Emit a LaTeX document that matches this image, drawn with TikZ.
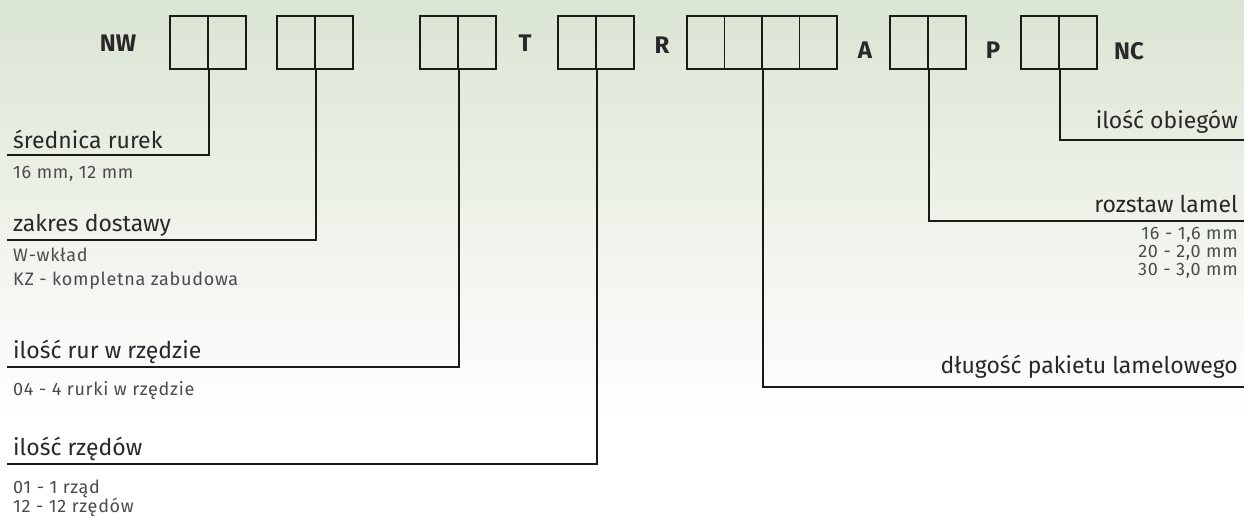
\documentclass[tikz,border=0pt]{standalone}
\usepackage{fontspec}
\setmainfont{Fira Sans}
\newfontfamily\subfont[LetterSpace=4]{Fira Sans}
\definecolor{bgtop}{RGB}{219,229,211}
\definecolor{lineC}{RGB}{25,27,23}
\definecolor{labC}{RGB}{40,40,40}
\definecolor{subC}{RGB}{75,75,75}
\begin{document}
\begin{tikzpicture}[x=1pt,y=-1pt,
  cell/.style={draw=lineC, line width=1.8pt, minimum width=38pt, minimum height=53pt, inner sep=0pt, anchor=north west},
  cellq/.style={cell, minimum width=37.5pt},
  code/.style={font=\bfseries\fontsize{24}{26}\selectfont, text=labC, inner sep=0pt},
  lab/.style={font=\fontsize{23}{26}\selectfont, text=labC, inner sep=0pt},
  labL/.style={lab, anchor=base west},
  labR/.style={lab, anchor=base east},
  sub/.style={font=\subfont\fontsize{18}{20}\selectfont, text=subC, inner sep=0pt, anchor=base west},
  subR/.style={sub, anchor=base east},
  conn/.style={draw=lineC, line width=1.8pt}
]
\useasboundingbox (0,0) rectangle (1244,518);
\fill[white] (0,0) rectangle (1244,518);
\shade[top color=bgtop, bottom color=white] (0,0) rectangle (1244,420);

% code letters
\node[code] (nw) at (118,43) {NW};
\node[code] (t) at (525,43) {T};
\node[code] (r) at (662,45) {R};
\node[code] (a) at (865,50) {A};
\node[code] (p) at (993,50) {P};
\node[code] (nc) at (1129,51) {NC};

% boxes
\node[cell] (b1a) at (169,15) {};
\node[cell] (b1b) at (207,15) {};
\node[cell] (b2a) at (276,15) {};
\node[cell] (b2b) at (314,15) {};
\node[cell] (b3a) at (419,15) {};
\node[cell] (b3b) at (457,15) {};
\node[cell] (b4a) at (557,15) {};
\node[cell] (b4b) at (595,15) {};
\node[cellq] (b5a) at (686,15) {};
\node[cellq] (b5b) at (723.5,15) {};
\node[cellq] (b5c) at (761,15) {};
\node[cellq] (b5d) at (798.5,15) {};
\node[cell] (b6a) at (889,15) {};
\node[cell] (b6b) at (927,15) {};
\node[cell] (b7a) at (1020,15) {};
\node[cell] (b7b) at (1058,15) {};

% connector ends
\coordinate (e1) at (7,155);
\coordinate (e2) at (7,240);
\coordinate (e3) at (7,367);
\coordinate (e4) at (7,464);
\coordinate (e5) at (1244,387);
\coordinate (e6) at (1244,221);
\coordinate (e7) at (1244,140);

\draw[conn] (b1a.south east) |- (e1);
\draw[conn] (b2a.south east) |- (e2);
\draw[conn] (b3a.south east) |- (e3);
\draw[conn] (b4a.south east) |- (e4);
\draw[conn] (b5b.south east) |- (e5);
\draw[conn] (b6a.south east) |- (e6);
\draw[conn] (b7a.south east) |- (e7);

% left labels
\node[labL] (l1) at (13,149) {średnica rurek};
\node[sub] (s1) at (13,179) {16 mm, 12 mm};
\node[labL] (l2) at (13,232) {zakres dostawy};
\node[sub] (s2a) at (13,262) {W-wkład};
\node[sub] (s2b) at (13,286) {KZ - kompletna zabudowa};
\node[labL] (l3) at (13,358) {ilość rur w rzędzie};
\node[sub] (s3) at (13,395) {04 - 4 rurki w rzędzie};
\node[labL] (l4) at (13,455) {ilość rzędów};
\node[sub] (s4a) at (13,493) {01 - 1 rząd};
\node[sub] (s4b) at (13,512) {12 - 12 rzędów};

% right labels
\node[labR] (l7) at (1238,129) {ilość obiegów};
\node[labR] (l6) at (1238,213) {rozstaw lamel};
\node[subR] (s6a) at (1238,240) {16 - 1,6 mm};
\node[subR] (s6b) at (1238,258) {20 - 2,0 mm};
\node[subR] (s6c) at (1238,276) {30 - 3,0 mm};
\node[labR] (l5) at (1238,373) {długość pakietu lamelowego};
\end{tikzpicture}
\end{document}
